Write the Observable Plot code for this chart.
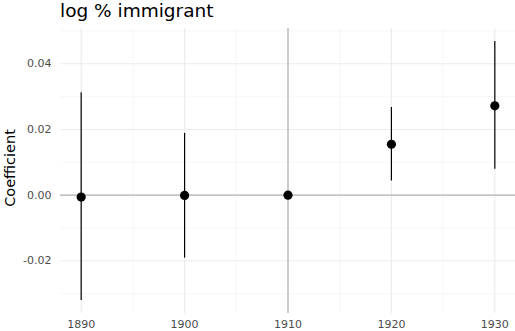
<!DOCTYPE html>
<html>
<head>
<meta charset="utf-8">
<script src="https://cdn.jsdelivr.net/npm/d3@7"></script>
<script src="https://cdn.jsdelivr.net/npm/@observablehq/plot@0.6"></script>
<style>
  html, body { margin: 0; padding: 0; background: #fff; }
  #title { height: 26px; line-height: 22px; padding-left: 60px; font-family: "DejaVu Sans", sans-serif; font-size: 18.5px; color: #000; box-sizing: border-box; }
  svg { display: block; }
</style>
</head>
<body>
<div id="title">log % immigrant</div>
<div id="chart"></div>
<script>
const years = [1890, 1900, 1910, 1920, 1930];
const estimates = [-0.0006, -0.0001, 0, 0.0155, 0.0272];
const lower = [-0.0321, -0.0192, null, 0.0043, 0.0079];
const upper = [0.0312, 0.0188, null, 0.0267, 0.0468];
const yTicks = [-0.02, 0, 0.02, 0.04];
const yMinor = [-0.03, -0.01, 0.01, 0.03, 0.05];
const xTicks = [1890, 1900, 1910, 1920, 1930];
const xMinor = [1895, 1905, 1915, 1925];

const data = years.map((y, i) => ({year: y, est: estimates[i], lo: lower[i], hi: upper[i]}));
const bars = data.filter(d => d.lo != null);

const font = "DejaVu Sans, sans-serif";
const plot = Plot.plot({
  width: 515,
  height: 305,
  marginLeft: 60,
  marginRight: 0,
  marginTop: 2,
  marginBottom: 18,
  style: {fontFamily: font, fontSize: "11px", background: "#fff"},
  x: {domain: [1888, 1932]},
  y: {domain: [-0.03605, 0.05075]},
  marks: [
    Plot.ruleX(xMinor, {stroke: "#f2f2f2", strokeWidth: 0.6}),
    Plot.ruleY(yMinor, {stroke: "#f2f2f2", strokeWidth: 0.6}),
    Plot.ruleX(xTicks, {stroke: "#ebebeb", strokeWidth: 1.1}),
    Plot.ruleY(yTicks, {stroke: "#ebebeb", strokeWidth: 1.1}),
    Plot.ruleY([0], {stroke: "#b5b5b5", strokeWidth: 1.3}),
    Plot.ruleX([1910], {stroke: "#b5b5b5", strokeWidth: 1.3}),
    Plot.ruleX(bars, {x: "year", y1: "lo", y2: "hi", stroke: "#000", strokeWidth: 1.2}),
    Plot.dot(data, {x: "year", y: "est", r: 4.6, fill: "#000", stroke: "none"}),
    Plot.axisY({ticks: yTicks, tickFormat: d => d.toFixed(2), tickSize: 0, tickPadding: 9, label: null, fill: "#4d4d4d", fontSize: 11}),
    Plot.axisX({ticks: xTicks, tickFormat: d => String(d), tickSize: 0, tickPadding: 7, label: null, fill: "#4d4d4d", fontSize: 11}),
    Plot.text(["Coefficient"], {frameAnchor: "left", textAnchor: "middle", dx: -50, dy: -3, rotate: -90, fontSize: 14.5, fill: "#000", fontFamily: font})
  ]
});
document.getElementById("chart").appendChild(plot);
</script>
</body>
</html>
